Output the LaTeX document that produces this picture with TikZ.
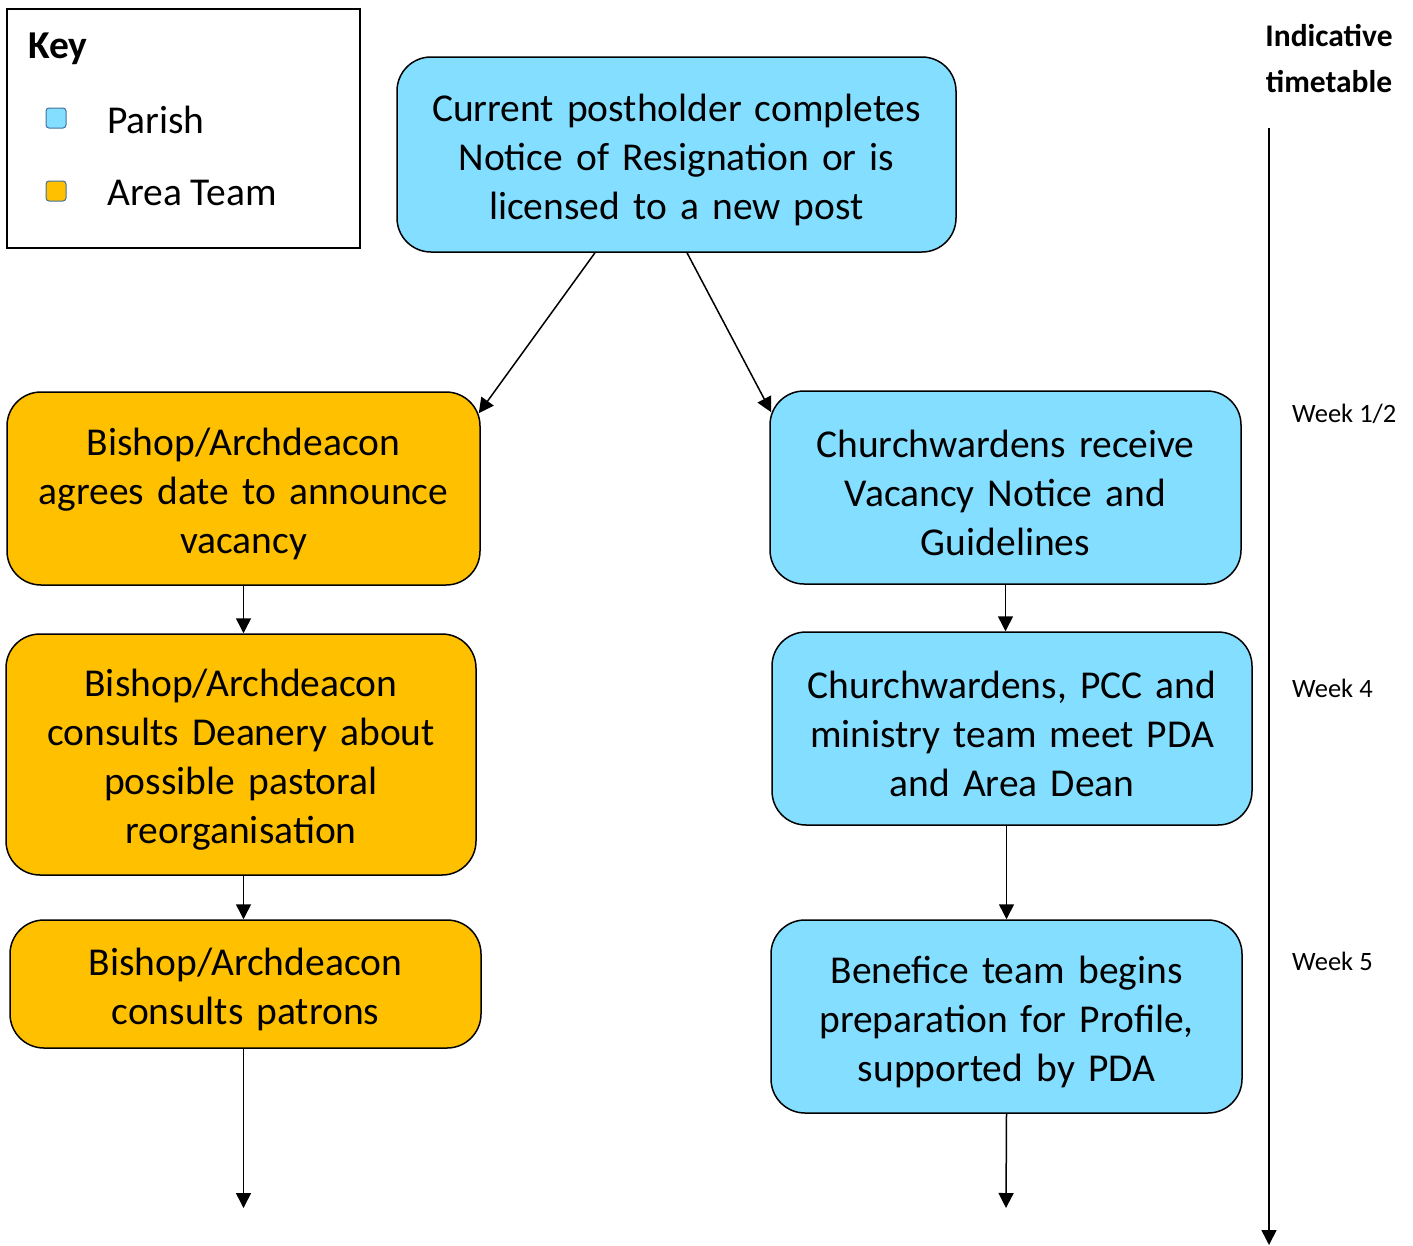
\documentclass[tikz,border=0pt]{standalone}
\usepackage{fontspec}
\setmainfont{Carlito}
\usetikzlibrary{positioning}
\usetikzlibrary{arrows.meta}
\usetikzlibrary{shapes}
\definecolor{parishblue}{RGB}{132,222,255}
\definecolor{areaorange}{RGB}{255,192,0}
\definecolor{swatchline}{RGB}{65,113,156}
\tikzset{
        boxnode/.style={align=center, inner sep=0pt, rounded corners=34pt, draw=black, line width=1.5pt, font=\fontsize{39.5}{49}\selectfont, execute at begin node={\rule{0pt}{38pt}}},
        % Parish steps
        node_parish/.style={boxnode, fill=parishblue},
        % Area team steps
        node_area/.style={boxnode, fill=areaorange},
        % Key swatches
        node_swatch/.style={rectangle, rounded corners=3pt, draw=swatchline, line width=1pt, minimum size=20pt, inner sep=0pt},
        node_keytext/.style={anchor=west, inner sep=0pt, font=\fontsize{39.5}{46}\selectfont},
        % Timetable labels
        node_week/.style={anchor=west, inner sep=0pt, font=\fontsize{26.5}{30}\selectfont},
        flow/.style={line width=1.5pt, -{Triangle[width=15pt,length=15pt]}}
}
\begin{document}
\begin{tikzpicture}[x=1pt, y=-1pt]
            \useasboundingbox (0,0) rectangle (1413,1245);
            % Key
            \node[draw, line width=1.5pt, minimum width=353pt, minimum height=239pt, inner sep=0pt] (key) at (183.5,128.5) {};
            \node[node_keytext, font=\fontsize{39.5}{46}\selectfont\bfseries] (key_title) at (28,49) {Key};
            \node[node_swatch, fill=parishblue] (key_parish) at (56,118) {};
            \node[node_swatch, fill=areaorange] (key_area) at (56,191) {};
            \node[node_keytext] (key_parish_text) at (107,120) {Parish};
            \node[node_keytext] (key_area_text) at (107,193) {Area Team};

            % Steps
            \node[node_parish, minimum width=559pt, minimum height=195pt, text width=540pt] (post) at (676.5,154.5)
                {Current postholder completes\\Notice of Resignation or is\\licensed to a new post};
            \node[node_area, minimum width=473pt, minimum height=193pt, text width=460pt] (b1) at (243.5,488.5)
                {Bishop/Archdeacon\\agrees date to announce\\vacancy};
            \node[node_area, minimum width=470pt, minimum height=241pt, text width=455pt] (b2) at (241,754.5)
                {Bishop/Archdeacon\\consults Deanery about\\possible pastoral\\reorganisation};
            \node[node_area, minimum width=471pt, minimum height=128pt, text width=455pt] (b3) at (245.5,984)
                {Bishop/Archdeacon\\consults patrons};
            \node[node_parish, minimum width=471pt, minimum height=193pt, text width=455pt] (c1) at (1005.5,487.5)
                {Churchwardens receive\\Vacancy Notice and\\Guidelines};
            \node[node_parish, minimum width=480pt, minimum height=193pt, text width=465pt] (c2) at (1012,728.5)
                {Churchwardens, PCC and\\ministry team meet PDA\\and Area Dean};
            \node[node_parish, minimum width=471pt, minimum height=193pt, text width=455pt] (c3) at (1006.5,1016.5)
                {Benefice team begins\\preparation for Profile,\\supported by PDA};
            \coordinate (b_end) at (243.5,1208);
            \coordinate (c_end) at (1006,1208);

            % Timetable
            \node[align=center, inner sep=0pt, font=\fontsize{31.5}{46}\selectfont\bfseries] (tt_title) at (1329,59) {Indicative\\timetable};
            \coordinate (tt_top) at (1269,128);
            \coordinate (tt_end) at (1269,1245);
            \node[node_week] (week_a) at (1292,414) {Week 1/2};
            \node[node_week] (week_b) at (1292,688) {Week 4};
            \node[node_week] (week_c) at (1292,961) {Week 5};

            % Connectors
            \draw[flow] ([xshift=-81.5pt]post.south) -- ([xshift=-2pt,yshift=-22pt]b1.north east);
            \draw[flow] ([xshift=10.5pt]post.south) -- ([xshift=2pt,yshift=-22pt]c1.north west);
            \draw[flow] (b1.south) -- (b1.south |- b2.north);
            \draw[flow] (b1.south |- b2.south) -- (b1.south |- b3.north);
            \draw[flow] (b_end |- b3.south) -- (b_end);
            \draw[flow] (c1.south) -- (c1.south |- c2.north);
            \draw[flow] (c2.south -| c3.north) -- (c3.north);
            \draw[flow] (c3.south) -- (c_end);
            \draw[flow] (tt_top) -- (tt_end);
        \end{tikzpicture}
\end{document}
